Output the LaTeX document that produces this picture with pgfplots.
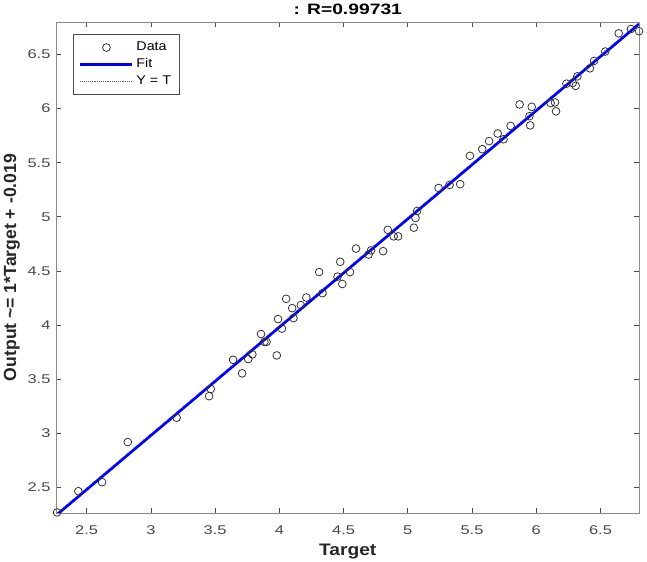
\documentclass[border=0pt]{standalone}
\usepackage{graphicx}
\usepackage{fontspec}
\setmainfont{Liberation Sans}
\usepackage{pgfplots}
\pgfplotsset{compat=1.18}

\definecolor{fitblue}{RGB}{0,0,255}
\definecolor{axgray}{HTML}{8A8A8A}
\definecolor{ticktext}{HTML}{4A4A4A}

% the reference is a little wider than tall in its lettering
\newcommand{\wide}[2]{\scalebox{#1}[1]{#2}}

\pgfplotsset{
    markleg/.style={legend image code/.code={
        \draw[mark repeat=2, mark phase=2, ##1] plot coordinates {(0pt,0pt) (19.5pt,0pt) (39pt,0pt)};}},
    lineleg/.style={legend image code/.code={
        \draw[##1] (0pt,0pt) -- (39pt,0pt);}},
}

\pgfplotstableread{
x y
2.270 2.270
2.435 2.466
2.620 2.550
2.820 2.920
3.200 3.145
3.453 3.344
3.466 3.410
3.640 3.680
3.710 3.555
3.758 3.686
3.790 3.730
3.857 3.918
3.883 3.845
3.900 3.845
3.980 3.720
3.990 4.056
4.020 3.968
4.053 4.243
4.100 4.157
4.110 4.065
4.167 4.185
4.210 4.255
4.336 4.295
4.310 4.490
4.474 4.585
4.453 4.448
4.490 4.380
4.550 4.490
4.597 4.707
4.695 4.652
4.714 4.690
4.808 4.683
4.844 4.880
4.890 4.820
4.925 4.820
5.047 4.900
5.060 4.990
5.073 5.055
5.240 5.267
5.325 5.295
5.408 5.302
5.484 5.564
5.580 5.625
5.633 5.700
5.700 5.770
5.745 5.717
5.800 5.840
5.870 6.038
5.947 5.930
5.953 5.845
5.965 6.016
6.112 6.050
6.146 6.057
6.154 5.975
6.235 6.230
6.284 6.237
6.307 6.210
6.320 6.298
6.418 6.372
6.450 6.440
6.537 6.527
6.642 6.695
6.737 6.735
6.800 6.715
}\regdata

\begin{document}
\begin{tikzpicture}
\begin{axis}[
    scale only axis,
    width=436.9pt,
    height=368.25pt,
    xmin=2.265, xmax=6.8,
    ymin=2.265, ymax=6.8,
    xtick={2.5,3,...,6.5},
    ytick={2.5,3,...,6.5},
    tick align=inside,
    major tick length=3.5pt,
    axis line style={draw=axgray, line width=0.7pt},
    every tick/.style={draw=black!70, line width=0.6pt},
    /pgf/number format/assume math mode=true,
    ticklabel style={font=\fontsize{9.5pt}{11pt}\selectfont, text=ticktext},
    xticklabel={\wide{1.3}{\pgfmathprintnumber{\tick}}},
    yticklabel={\wide{1.3}{\pgfmathprintnumber{\tick}}},
    xticklabel style={yshift=-6pt},
    yticklabel style={xshift=-1pt},
    title={\wide{1.28}{: R=0.99731}},
    every axis title/.style={font=\fontsize{11.3pt}{13pt}\selectfont\bfseries,
        at={(axis description cs:0.5,1)}, anchor=base, yshift=5.25pt},
    xlabel={\wide{1.15}{Target}},
    xlabel style={font=\fontsize{12.5pt}{14pt}\selectfont\bfseries, text=black!85,
        at={(axis description cs:0.5,-0.079)}, anchor=center},
    ylabel={Output \textasciitilde= 1*Target + -0.019},
    ylabel style={font=\fontsize{13.2pt}{15pt}\selectfont\bfseries, text=black!85,
        at={(axis description cs:-0.0765,0.5)}, anchor=center},
    legend style={
        at={(axis description cs:0.029,0.976)},
        anchor=north west,
        draw=black!70,
        fill=white,
        line width=0.6pt,
        font=\fontsize{9.5pt}{11pt}\selectfont,
        inner xsep=4pt,
        inner ysep=4pt,
        row sep=0.3pt,
        legend cell align=left
    }
]
\addplot[only marks, mark=o, mark size=2.9pt, draw=black!80, line width=0.6pt, markleg]
    table {\regdata};
\addlegendentry{\wide{1.13}{Data}}
\addplot[fitblue, line width=2pt, lineleg]
    coordinates {(2.265,2.246) (6.8,6.781)};
\addlegendentry{\wide{1.13}{Fit}}
\addplot[black!60, line width=0.4pt, densely dotted, lineleg]
    coordinates {(2.265,2.265) (6.8,6.8)};
\addlegendentry{\wide{1.13}{Y = T}}
\coordinate (bl) at (rel axis cs:0,0);
\coordinate (tr) at (rel axis cs:1,1);
\end{axis}
\pgfresetboundingbox
\path ([shift={(-42.375pt,-36.75pt)}]bl) rectangle ([shift={(6pt,16.5pt)}]tr);
\end{tikzpicture}
\end{document}
